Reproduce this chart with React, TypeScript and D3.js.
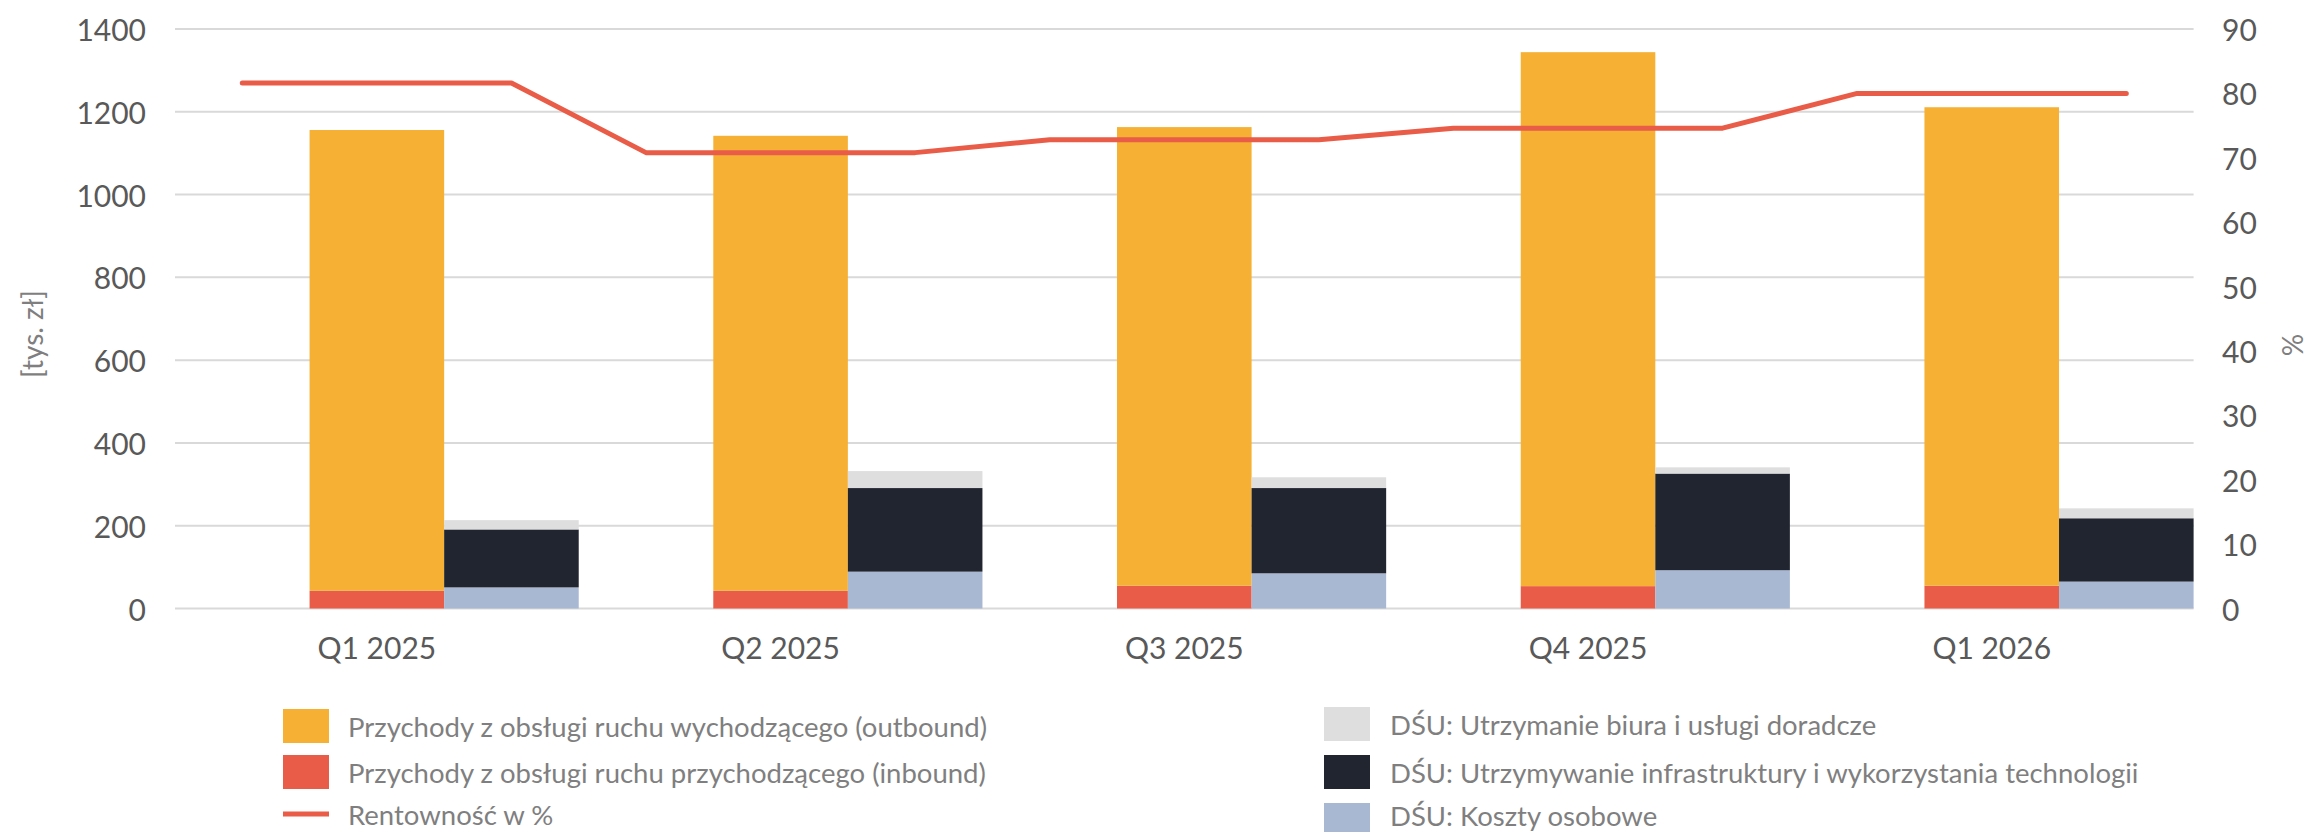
import React from "react";
import * as d3 from "d3";

const categories = ["Q1 2025", "Q2 2025", "Q3 2025", "Q4 2025", "Q1 2026"];
const outbound = [1113, 1099, 1108, 1290, 1156];
const inbound = [43, 43, 55, 54, 55];
const costPersonnel = [51, 89, 85, 92.5, 65];
const costInfra = [140, 202, 206, 233.5, 153];
const costOffice = [22.5, 41, 26, 15, 24];
const profitability = [81.6, 70.8, 72.8, 74.6, 80.0];
const leftTicks = [0, 200, 400, 600, 800, 1000, 1200, 1400];
const rightTicks = [0, 10, 20, 30, 40, 50, 60, 70, 80, 90];

const W = 2308;
const H = 832;
const FONT = "Lato, 'Open Sans', sans-serif";
const C_ORANGE = "#F6B033";
const C_RED = "#E95C47";
const C_DARK = "#212530";
const C_BLUE = "#A8B8D3";
const C_GRAY = "#DEDEDE";
const C_GRID = "#D9D9D9";
const C_TEXT = "#595959";
const C_LEG = "#7F7F7F";

export default function App() {
  const x = d3.scaleBand<string>().domain(categories).range([175, 2193.6]).padding(0);
  const y = d3.scaleLinear().domain([0, 1400]).range([608.5, 29]);
  const y2 = d3.scaleLinear().domain([0, 90]).range([608.5, 29]);
  const bw = x.bandwidth();
  const barW = bw / 3;

  const revenueStack = d3.stack<number>().keys(["inbound", "outbound"]).value((i, k) =>
    k === "inbound" ? inbound[i] : outbound[i]
  )(categories.map((_, i) => i));
  const revenueColors = [C_RED, C_ORANGE];

  const costStack = d3
    .stack<number>()
    .keys(["personnel", "infra", "office"])
    .value((i, k) => (k === "personnel" ? costPersonnel[i] : k === "infra" ? costInfra[i] : costOffice[i]))(
    categories.map((_, i) => i)
  );
  const costColors = [C_BLUE, C_DARK, C_GRAY];

  const linePts: [number, number][] = [];
  categories.forEach((c, i) => {
    const x0 = x(c)!;
    linePts.push([x0 + bw / 6, y2(profitability[i])]);
    linePts.push([x0 + (5 * bw) / 6, y2(profitability[i])]);
  });
  const lineGen = d3.line();

  const legendLeft = [
    { label: "Przychody z obsługi ruchu wychodzącego (outbound)", color: C_ORANGE, type: "rect", cy: 726, ty: 726 },
    { label: "Przychody z obsługi ruchu przychodzącego (inbound)", color: C_RED, type: "rect", cy: 772, ty: 772 },
    { label: "Rentowność w %", color: C_RED, type: "line", cy: 814, ty: 814 },
  ];
  const legendRight = [
    { label: "DŚU: Utrzymanie biura i usługi doradcze", color: C_GRAY, type: "rect", cy: 724, ty: 724 },
    { label: "DŚU: Utrzymywanie infrastruktury i wykorzystania technologii", color: C_DARK, type: "rect", cy: 772, ty: 772 },
    { label: "DŚU: Koszty osobowe", color: C_BLUE, type: "rect", cy: 820, ty: 815 },
  ];

  const renderLegend = (items: typeof legendLeft, sx: number, tx: number) =>
    items.map((it, i) => (
      <g key={i}>
        {it.type === "rect" ? (
          <rect x={sx} y={it.cy - 17} width={46} height={34} fill={it.color} />
        ) : (
          <line x1={sx} x2={sx + 46} y1={it.cy} y2={it.cy} stroke={it.color} strokeWidth={5} />
        )}
        <text x={tx} y={it.ty} dominantBaseline="central" fontSize={27.5} fill={C_LEG} fontFamily={FONT}>
          {it.label}
        </text>
      </g>
    ));

  return (
    <div style={{ position: "absolute", left: 0, top: 0 }}>
      <svg width={W} height={H} viewBox={`0 0 ${W} ${H}`} style={{ display: "block", background: "#fff" }}>
        {leftTicks.map((t) => (
          <line key={t} x1={175} x2={2193.6} y1={y(t)} y2={y(t)} stroke={C_GRID} strokeWidth={2} />
        ))}
        {leftTicks.map((t) => (
          <text key={t} x={146} y={y(t)} textAnchor="end" dominantBaseline="central" fontSize={30} fill={C_TEXT} fontFamily={FONT}>
            {t}
          </text>
        ))}
        {rightTicks.map((t) => (
          <text key={t} x={2222} y={y2(t)} textAnchor="start" dominantBaseline="central" fontSize={30} fill={C_TEXT} fontFamily={FONT}>
            {t}
          </text>
        ))}
        <text transform="translate(32,334) rotate(-90)" textAnchor="middle" dominantBaseline="central" fontSize={28} fill={C_LEG} fontFamily={FONT}>
          [tys. zł]
        </text>
        <text transform="translate(2292,345) rotate(-90)" textAnchor="middle" dominantBaseline="central" fontSize={28} fill={C_LEG} fontFamily={FONT}>
          %
        </text>

        {revenueStack.map((layer, li) =>
          layer.map((d, i) => (
            <rect
              key={`r${li}-${i}`}
              x={x(categories[i])! + barW}
              y={y(d[1])}
              width={barW}
              height={y(d[0]) - y(d[1])}
              fill={revenueColors[li]}
            />
          ))
        )}
        {costStack.map((layer, li) =>
          layer.map((d, i) => (
            <rect
              key={`c${li}-${i}`}
              x={x(categories[i])! + 2 * barW}
              y={y(d[1])}
              width={barW}
              height={y(d[0]) - y(d[1])}
              fill={costColors[li]}
            />
          ))
        )}

        <path d={lineGen(linePts) || ""} fill="none" stroke={C_RED} strokeWidth={5} strokeLinejoin="round" strokeLinecap="round" />

        {categories.map((c) => (
          <text key={c} x={x(c)! + bw / 2} y={647} textAnchor="middle" dominantBaseline="central" fontSize={30} fill={C_TEXT} fontFamily={FONT}>
            {c}
          </text>
        ))}

        {renderLegend(legendLeft, 283, 348)}
        {renderLegend(legendRight, 1324, 1390)}
      </svg>
    </div>
  );
}
